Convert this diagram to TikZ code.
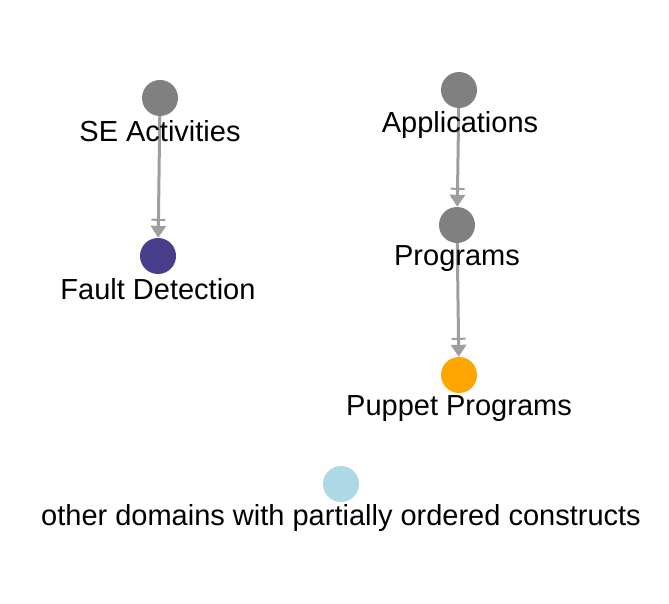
\documentclass[tikz,border=0pt]{standalone}
\usepackage{fontspec}
\setmainfont{Liberation Sans}
\usetikzlibrary{arrows.meta}
\definecolor{puporange}{RGB}{255,165,0}
\definecolor{faultblue}{RGB}{72,61,139}
\definecolor{otherblue}{RGB}{173,216,230}
\tikzset{
  dot/.style={circle, minimum size=36pt, inner sep=0pt},
  txt/.style={font=\fontsize{29}{33}\selectfont, inner sep=0pt},
  edge/.style={line width=3pt, color=black!38,
    -{Bar[width=14pt,line width=2pt,sep=5pt]Triangle[width=15pt,length=12pt]}}
}
\begin{document}
\begin{tikzpicture}[x=1pt,y=-1pt]
\useasboundingbox (0,0) rectangle (669,604);
\node[dot, fill=gray] (1) at (160,98) {};
\node[dot, fill=gray] (2) at (459,90) {};
\node[dot, fill=gray] (4) at (457,225) {};

\node[dot, fill=faultblue] (3) at (158,256) {};
\node[dot, fill=puporange] (5) at (459,375) {};
\node[dot, fill=otherblue] (6) at (341,484) {};

\path[draw,edge] (1) -- (3);
\path[draw,edge] (2) -- (4);
\path[draw,edge] (4) -- (5);

\node[txt] (1t) at (160,131) {SE Activities};
\node[txt] (2t) at (460,125) {Applications};
\node[txt] (4t) at (457,259) {Programs};
\node[txt] (3t) at (158,289) {Fault Detection};
\node[txt] (5t) at (459,409) {Puppet Programs};
\node[txt] (6t) at (341,518) {other domains with partially ordered constructs};
\end{tikzpicture}
\end{document}
